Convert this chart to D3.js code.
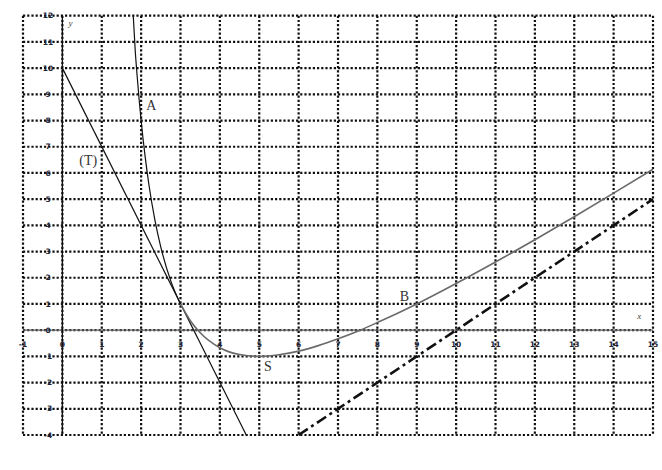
<!DOCTYPE html>
<html>
<head>
<meta charset="utf-8">
<script src="https://cdn.jsdelivr.net/npm/d3@7"></script>
<style>
  body { margin: 0; background: #fff; }
  svg { display: block; }
</style>
</head>
<body>
<div id="chart"></div>
<script>
// Grid / tick values
const X_TICKS = d3.range(-1, 16);
const Y_TICKS = d3.range(-4, 13);

// Curve points (x, y)
const CURVE_LEFT = [
  [1.8, 12.0], [1.85, 10.67], [1.9, 9.68], [2.0, 8.0], [2.1, 6.65],
  [2.2, 5.53], [2.35, 4.2], [2.5, 3.17], [2.75, 1.89], [3.0, 1.0]
];
const CURVE_RIGHT = [
  [3.0, 1.0], [3.25, 0.36], [3.5, -0.1], [4.0, -0.67], [4.5, -0.93],
  [5.0, -1.0], [5.5, -0.94], [6.0, -0.8], [6.5, -0.59], [7.0, -0.33],
  [7.5, -0.04], [8.0, 0.29], [9.0, 1.0], [10.0, 1.78], [11.0, 2.6],
  [12.0, 3.45], [13.0, 4.33], [14.0, 5.23], [15.0, 6.14]
];
// Tangent (T) and oblique asymptote end points
const TANGENT = [[0, 10], [4.67, -4]];
const ASYMPTOTE = [[6, -4], [15, 5]];

// Text labels on the figure
const LABELS = [
  { t: "A", x: 2.13, y: 8.4 },
  { t: "(T)", x: 0.43, y: 6.3 },
  { t: "B", x: 8.57, y: 1.12 },
  { t: "S", x: 5.12, y: -1.55 }
];

const W = 662, H = 470;
const svg = d3.select("#chart").append("svg")
  .attr("width", W).attr("height", H)
  .style("background", "#fff");

const x = d3.scaleLinear().domain([-1, 15]).range([23, 653]);
const y = d3.scaleLinear().domain([-4, 12]).range([435, 15.7]);

// Dotted grid (including border)
const grid = svg.append("g")
  .attr("stroke", "#111").attr("stroke-width", 2.2).attr("stroke-dasharray", "2.2,2");
grid.selectAll(".vx").data(X_TICKS).join("line")
  .attr("x1", d => x(d)).attr("x2", d => x(d))
  .attr("y1", y(12)).attr("y2", y(-4));
grid.selectAll(".hy").data(Y_TICKS).join("line")
  .attr("x1", x(-1)).attr("x2", x(15))
  .attr("y1", d => y(d)).attr("y2", d => y(d));

// Axes
svg.append("line")
  .attr("x1", x(-1)).attr("x2", x(15)).attr("y1", y(0)).attr("y2", y(0))
  .attr("stroke", "#666").attr("stroke-width", 1.3);
svg.append("line")
  .attr("x1", x(0)).attr("x2", x(0)).attr("y1", y(12)).attr("y2", y(-4))
  .attr("stroke", "#111").attr("stroke-width", 1.3);

// Tick labels
const tickFont = "'DejaVu Sans', sans-serif";
svg.append("g").selectAll("text").data(X_TICKS).join("text")
  .attr("x", d => x(d)).attr("y", y(0) + 17)
  .attr("text-anchor", "middle")
  .attr("font-family", tickFont).attr("font-size", 7.5).attr("font-weight", "bold")
  .attr("fill", "#223")
  .text(d => d);
svg.append("g").selectAll("text").data(Y_TICKS).join("text")
  .attr("x", 48).attr("y", d => y(d)).attr("dy", "0.35em")
  .attr("text-anchor", "middle")
  .attr("font-family", tickFont).attr("font-size", 7.5).attr("font-weight", "bold")
  .attr("fill", "#223")
  .text(d => d);

// Axis names
svg.append("text").attr("x", x(0) + 6).attr("y", y(12) + 10)
  .attr("font-family", "'Liberation Serif', serif").attr("font-style", "italic")
  .attr("font-size", 9).attr("fill", "#444").text("y");
svg.append("text").attr("x", x(14.6)).attr("y", y(0) - 11)
  .attr("font-family", "'Liberation Serif', serif").attr("font-style", "italic")
  .attr("font-size", 9).attr("fill", "#444").text("x");

const line = d3.line().x(d => x(d[0])).y(d => y(d[1]));
const curveLine = d3.line().x(d => x(d[0])).y(d => y(d[1])).curve(d3.curveMonotoneX);

// Tangent (T)
svg.append("path").attr("d", line(TANGENT))
  .attr("fill", "none").attr("stroke", "#111").attr("stroke-width", 1.2);

// Asymptote (dash-dot)
svg.append("path").attr("d", line(ASYMPTOTE))
  .attr("fill", "none").attr("stroke", "#111").attr("stroke-width", 2.6)
  .attr("stroke-dasharray", "11,4,3,4");

// Curve
svg.append("path").attr("d", curveLine(CURVE_LEFT))
  .attr("fill", "none").attr("stroke", "#111").attr("stroke-width", 1.2);
svg.append("path").attr("d", curveLine(CURVE_RIGHT))
  .attr("fill", "none").attr("stroke", "#6a6a6a").attr("stroke-width", 1.6);

// Labels
svg.append("g").selectAll("text").data(LABELS).join("text")
  .attr("x", d => x(d.x)).attr("y", d => y(d.y))
  .attr("font-family", "'Liberation Serif', 'DejaVu Serif', serif")
  .attr("font-size", 14).attr("fill", "#333")
  .text(d => d.t);
</script>
</body>
</html>
